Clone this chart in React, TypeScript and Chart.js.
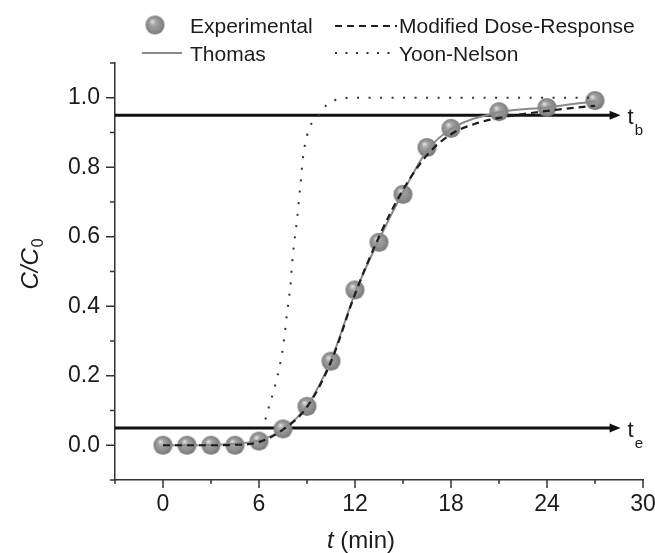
import React, { useEffect, useRef } from 'react';
import { Chart, registerables } from 'chart.js';

Chart.register(...registerables);

const FONT = "'Liberation Sans', Arial, Helvetica, sans-serif";
const TEXT = '#1c1c1c';

// Experimental breakthrough data
const timeMin = [0, 1.5, 3, 4.5, 6, 7.5, 9, 10.5, 12, 13.5, 15, 16.5, 18, 21, 24, 27];
const experimental = [0.0, 0.0, 0.0, 0.0, 0.012, 0.047, 0.112, 0.242, 0.447, 0.584, 0.722, 0.857, 0.912, 0.96, 0.972, 0.992];

// Thomas model (solid grey)
const thomasTime = [0, 1.5, 3, 4.5, 6, 7.5, 9, 10.5, 12, 13.5, 15, 16.5, 18, 21, 24, 27];
const thomas = [0.0, 0.0, 0.001, 0.004, 0.014, 0.046, 0.113, 0.245, 0.437, 0.592, 0.728, 0.847, 0.91, 0.958, 0.972, 0.99];

// Modified Dose-Response model (dashed)
const mdrTime = [0, 1.5, 3, 4.5, 6, 7.5, 9, 10.5, 12, 13.5, 15, 16.5, 18, 19.5, 21, 22.5, 24, 25.5, 27];
const mdr = [0.0, 0.0, 0.0, 0.001, 0.009, 0.045, 0.11, 0.24, 0.435, 0.6, 0.735, 0.835, 0.895, 0.925, 0.942, 0.953, 0.962, 0.97, 0.977];

// Yoon-Nelson model (dotted)
const ynTime = [6.4, 6.6, 7.0, 7.33, 7.54, 7.73, 7.96, 8.13, 8.38, 8.58, 8.79, 9.2, 9.7, 10.25, 10.9, 12, 15, 18, 21, 24, 27];
const yoonNelson = [0.074, 0.107, 0.17, 0.237, 0.295, 0.371, 0.458, 0.554, 0.65, 0.746, 0.842, 0.918, 0.947, 0.98, 0.995, 1.0, 1.0, 1.0, 1.0, 1.0, 1.0];

// Axes
const xMin = -3;
const xMax = 30;
const yMin = -0.1;
const yMax = 1.1;
const xTickValues = [0, 6, 12, 18, 24, 30];
const xMinorTicks = [-3, 3, 9, 15, 21, 27];
const yTickValues = [0, 0.2, 0.4, 0.6, 0.8, 1.0];
const yMinorTicks = [-0.1, 0.1, 0.3, 0.5, 0.7, 0.9, 1.1];

// Breakthrough / exhaustion reference arrows
const arrowLevels = [0.95, 0.05];
const arrowSubs = ['b', 'e'];
const arrowEnd = 28.6;

const legendLabels = ['Experimental', 'Modified Dose-Response', 'Thomas', 'Yoon-Nelson'];

function makeSphere(r: number): HTMLCanvasElement {
  const c = document.createElement('canvas');
  const s = Math.ceil(r * 2) + 2;
  c.width = s;
  c.height = s;
  const g = c.getContext('2d')!;
  const cx = s / 2;
  const cy = s / 2;
  const grad = g.createRadialGradient(cx - r * 0.3, cy - r * 0.4, r * 0.05, cx, cy, r);
  grad.addColorStop(0, '#e0e0e0');
  grad.addColorStop(0.3, '#a3a3a3');
  grad.addColorStop(0.8, '#888888');
  grad.addColorStop(1, '#707070');
  g.fillStyle = grad;
  g.beginPath();
  g.arc(cx, cy, r, 0, Math.PI * 2);
  g.fill();
  return c;
}

const pts = (xs: number[], ys: number[]) => xs.map((x, i) => ({ x, y: ys[i] }));

export default function App() {
  const ref = useRef<HTMLCanvasElement | null>(null);

  useEffect(() => {
    if (!ref.current) return;
    const sphere = makeSphere(9.5);

    const decor = {
      id: 'decor',
      beforeDatasetsDraw(chart: any) {
        const { ctx, scales } = chart;
        const xs = scales.x;
        const ys = scales.y;
        ctx.save();
        arrowLevels.forEach((lv, i) => {
          const y = ys.getPixelForValue(lv);
          const x0 = xs.getPixelForValue(xMin);
          const x1 = xs.getPixelForValue(arrowEnd);
          ctx.strokeStyle = '#111';
          ctx.fillStyle = '#111';
          ctx.lineWidth = 3;
          ctx.beginPath();
          ctx.moveTo(x0, y);
          ctx.lineTo(x1 - 8, y);
          ctx.stroke();
          ctx.beginPath();
          ctx.moveTo(x1, y);
          ctx.lineTo(x1 - 11, y - 4.5);
          ctx.lineTo(x1 - 11, y + 4.5);
          ctx.closePath();
          ctx.fill();
          // label t_b / t_e
          ctx.fillStyle = TEXT;
          ctx.textBaseline = 'alphabetic';
          ctx.textAlign = 'left';
          ctx.font = `22px ${FONT}`;
          const tx = x1 + 7;
          ctx.fillText('t', tx, y + 9);
          const tw = ctx.measureText('t').width;
          ctx.font = `15px ${FONT}`;
          ctx.fillText(arrowSubs[i], tx + tw + 1, y + 20);
        });
        ctx.restore();
      },
      afterDraw(chart: any) {
        const { ctx, scales } = chart;
        const xs = scales.x;
        const ys = scales.y;
        const ca = chart.chartArea;
        ctx.save();
        // tick marks
        ctx.strokeStyle = '#333';
        ctx.lineWidth = 1.5;
        const xt = (v: number, len: number) => {
          const px = xs.getPixelForValue(v);
          ctx.beginPath();
          ctx.moveTo(px, ca.bottom);
          ctx.lineTo(px, ca.bottom + len);
          ctx.stroke();
        };
        const yt = (v: number, len: number) => {
          const py = ys.getPixelForValue(v);
          ctx.beginPath();
          ctx.moveTo(ca.left, py);
          ctx.lineTo(ca.left - len, py);
          ctx.stroke();
        };
        xTickValues.forEach((v) => xt(v, 8));
        xMinorTicks.forEach((v) => xt(v, 4));
        yTickValues.forEach((v) => yt(v, 9));
        yMinorTicks.forEach((v) => yt(v, 5));

        // axis titles
        ctx.fillStyle = TEXT;
        ctx.textBaseline = 'alphabetic';
        ctx.textAlign = 'left';
        // x title: t (min)
        ctx.font = `italic 24px ${FONT}`;
        const wT = ctx.measureText('t').width;
        ctx.font = `24px ${FONT}`;
        const wRest = ctx.measureText(' (min)').width;
        const xStart = 361 - (wT + wRest) / 2;
        ctx.font = `italic 24px ${FONT}`;
        ctx.fillText('t', xStart, 548);
        ctx.font = `24px ${FONT}`;
        ctx.fillText(' (min)', xStart + wT, 548);

        // y title: C/C0
        ctx.save();
        ctx.translate(38, 264);
        ctx.rotate(-Math.PI / 2);
        ctx.font = `italic 24px ${FONT}`;
        const wC = ctx.measureText('C/C').width;
        ctx.font = `16px ${FONT}`;
        const w0 = ctx.measureText('0').width;
        const ys0 = -(wC + w0 + 1) / 2;
        ctx.font = `italic 24px ${FONT}`;
        ctx.fillText('C/C', ys0, 0);
        ctx.font = `16px ${FONT}`;
        ctx.fillText('0', ys0 + wC + 1, 5);
        ctx.restore();

        // legend
        ctx.drawImage(sphere, 155 - sphere.width / 2, 25 - sphere.height / 2);
        ctx.font = `21px ${FONT}`;
        ctx.fillStyle = TEXT;
        ctx.fillText(legendLabels[0], 190, 33);
        ctx.fillText(legendLabels[1], 399, 33);
        ctx.fillText(legendLabels[2], 190, 61);
        ctx.fillText(legendLabels[3], 399, 61);

        ctx.lineWidth = 2.2;
        ctx.strokeStyle = '#1e1e1e';
        ctx.setLineDash([7, 5]);
        ctx.beginPath();
        ctx.moveTo(335, 26);
        ctx.lineTo(397, 26);
        ctx.stroke();

        ctx.setLineDash([]);
        ctx.strokeStyle = '#8a8a8a';
        ctx.lineWidth = 2;
        ctx.beginPath();
        ctx.moveTo(142, 53);
        ctx.lineTo(182, 53);
        ctx.stroke();

        ctx.setLineDash([2, 8.5]);
        ctx.strokeStyle = '#333';
        ctx.lineWidth = 2;
        ctx.beginPath();
        ctx.moveTo(335, 53);
        ctx.lineTo(397, 53);
        ctx.stroke();
        ctx.restore();
      },
    };

    const chart = new Chart(ref.current, {
      type: 'scatter',
      data: {
        datasets: [
          {
            label: legendLabels[1],
            data: pts(mdrTime, mdr),
            showLine: true,
            borderColor: '#1e1e1e',
            borderWidth: 2.2,
            borderDash: [7, 5],
            pointRadius: 0,
            cubicInterpolationMode: 'monotone',
            order: 1,
          } as any,
          {
            label: legendLabels[2],
            data: pts(thomasTime, thomas),
            showLine: true,
            borderColor: '#8a8a8a',
            borderWidth: 2,
            pointRadius: 0,
            cubicInterpolationMode: 'monotone',
            order: 2,
          } as any,
          {
            label: legendLabels[3],
            data: pts(ynTime, yoonNelson),
            showLine: true,
            borderColor: '#333',
            borderWidth: 2,
            borderDash: [2, 9.5],
            pointRadius: 0,
            cubicInterpolationMode: 'monotone',
            order: 3,
          } as any,
          {
            label: legendLabels[0],
            data: pts(timeMin, experimental),
            showLine: false,
            pointStyle: sphere,
            pointRadius: 9.5,
            order: 4,
          } as any,
        ],
      },
      options: {
        animation: false,
        responsive: false,
        events: [],
        layout: { padding: { top: 63, right: 12, left: 0, bottom: 0 } },
        plugins: {
          legend: { display: false },
          tooltip: { enabled: false },
        },
        scales: {
          x: {
            type: 'linear',
            min: xMin,
            max: xMax,
            afterBuildTicks: (s: any) => {
              s.ticks = xTickValues.map((v) => ({ value: v }));
            },
            afterFit: (s: any) => {
              s.height = 73;
              s.paddingRight = 0;
              s.paddingLeft = 0;
            },
            ticks: {
              font: { family: FONT, size: 23 },
              color: TEXT,
              padding: 11,
              maxRotation: 0,
              autoSkip: false,
              callback: (v: any) => String(v),
            },
            grid: { display: false, drawTicks: false, tickLength: 0 },
            border: { display: true, color: '#333', width: 1.5 },
          },
          y: {
            type: 'linear',
            min: yMin,
            max: yMax,
            afterBuildTicks: (s: any) => {
              s.ticks = yTickValues.map((v) => ({ value: v }));
            },
            afterFit: (s: any) => {
              s.width = 115;
              s.paddingTop = 0;
              s.paddingBottom = 0;
            },
            ticks: {
              font: { family: FONT, size: 23 },
              color: TEXT,
              padding: 15,
              autoSkip: false,
              callback: (v: any) => Number(v).toFixed(1),
            },
            grid: { display: false, drawTicks: false, tickLength: 0 },
            border: { display: true, color: '#333', width: 1.5 },
          },
        },
      } as any,
      plugins: [decor],
    });

    return () => chart.destroy();
  }, []);

  return (
    <div style={{ position: 'fixed', left: 0, top: 0, width: 655, height: 553, background: '#fff' }}>
      <canvas ref={ref} width={655} height={553} style={{ display: 'block' }} />
    </div>
  );
}
